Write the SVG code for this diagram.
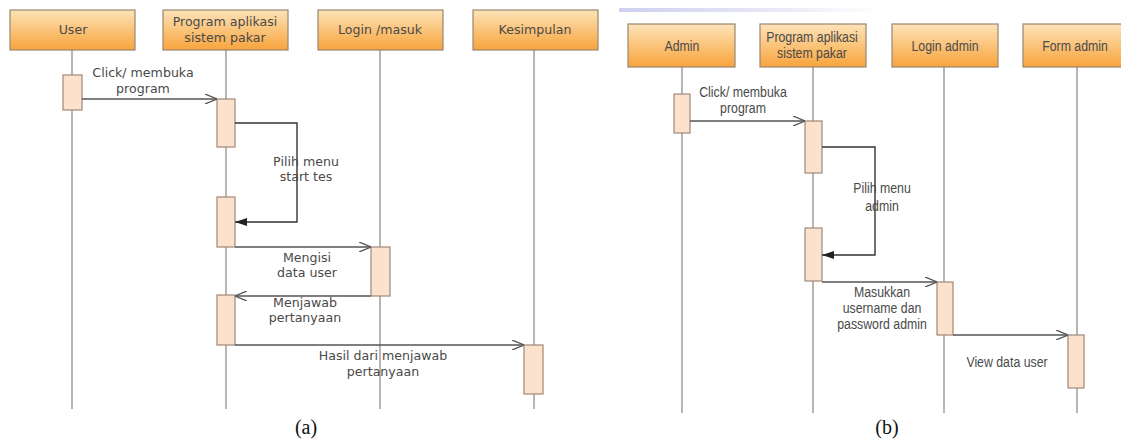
<svg xmlns="http://www.w3.org/2000/svg" width="1121" height="441" viewBox="0 0 1121 441">
  <defs>
    <linearGradient id="hdr" x1="0" y1="0" x2="0" y2="1">
      <stop offset="0" stop-color="#fde3b8"/>
      <stop offset="1" stop-color="#f8a43c"/>
    </linearGradient>
    <linearGradient id="topbar" x1="0" y1="0" x2="1" y2="0">
      <stop offset="0" stop-color="#cfcff0"/>
      <stop offset="0.6" stop-color="#e8e8f7"/>
      <stop offset="1" stop-color="#ffffff"/>
    </linearGradient>
    <marker id="open" viewBox="0 0 12 10" refX="12" refY="5" markerWidth="12" markerHeight="10" markerUnits="userSpaceOnUse" orient="auto">
      <path d="M0,0 L12,5 L0,10" fill="none" stroke="#555" stroke-width="1.3"/>
    </marker>
    <marker id="solid" viewBox="0 0 12 8" refX="12" refY="4" markerWidth="12" markerHeight="8" markerUnits="userSpaceOnUse" orient="auto">
      <path d="M0,0 L12,4 L0,8 Z" fill="#222"/>
    </marker>
  </defs>
  <style>
    .hdr { fill: url(#hdr); stroke: #9a8670; stroke-width: 1.2; }
    .life { stroke: #a8a39c; stroke-width: 1.6; fill: none; }
    .act { fill: #fce1cc; stroke: #a08878; stroke-width: 1.2; }
    .msg { stroke: #555; stroke-width: 1.4; fill: none; }
    .self { stroke: #333; stroke-width: 1.4; fill: none; }
    .ta { font-family: "DejaVu Sans", "Liberation Sans", sans-serif; font-size: 12.6px; fill: #4a4a4a; text-anchor: middle; }
    .tb { font-family: "Liberation Sans", Arial, sans-serif; font-size: 14.5px; fill: #4a4a4a; text-anchor: middle; }
    .cap { font-family: "Liberation Serif", serif; font-size: 20px; fill: #111; text-anchor: middle; }
  </style>

  <rect width="1121" height="441" fill="#ffffff"/>

  <!-- panel (a): user flow -->
  <g id="a-lifelines">
    <line class="life" x1="72" y1="50" x2="72" y2="409"/>
    <line class="life" x1="226" y1="50" x2="226" y2="409"/>
    <line class="life" x1="380" y1="50" x2="380" y2="409"/>
    <line class="life" x1="534" y1="50" x2="534" y2="409"/>
  </g>

  <g id="a-user">
    <rect class="hdr" x="10" y="10" width="125" height="40"/>
    <text class="ta" x="73" y="34">User</text>
    <rect class="act" x="63" y="75" width="19" height="35"/>
  </g>
  <g id="a-program">
    <rect class="hdr" x="163" y="10" width="125" height="40"/>
    <text class="ta" x="225" y="26">Program aplikasi</text>
    <text class="ta" x="225" y="42">sistem pakar</text>
    <rect class="act" x="217" y="99" width="18" height="48"/>
    <rect class="act" x="217" y="197" width="18" height="50"/>
    <rect class="act" x="217" y="295" width="18" height="50"/>
  </g>
  <g id="a-login">
    <rect class="hdr" x="318" y="10" width="125" height="40"/>
    <text class="ta" x="380" y="34">Login /masuk</text>
    <rect class="act" x="371" y="247" width="19" height="49"/>
  </g>
  <g id="a-kesimpulan">
    <rect class="hdr" x="473" y="10" width="125" height="40"/>
    <text class="ta" x="535" y="34">Kesimpulan</text>
    <rect class="act" x="524" y="345" width="19" height="49"/>
  </g>

  <g id="a-connectors">
    <line class="msg" x1="82" y1="99" x2="217" y2="99" marker-end="url(#open)"/>
    <polyline class="self" points="235,123 297,123 297,222 235,222" marker-end="url(#solid)"/>
    <line class="msg" x1="235" y1="247" x2="371" y2="247" marker-end="url(#open)"/>
    <line class="msg" x1="371" y1="296" x2="235" y2="296" marker-end="url(#open)"/>
    <line class="msg" x1="235" y1="345" x2="524" y2="345" marker-end="url(#open)"/>
  </g>
  <g id="a-labels">
    <text class="ta" x="143" y="77">Click/ membuka</text>
    <text class="ta" x="143" y="93">program</text>
    <text class="ta" x="306" y="166">Pilih menu</text>
    <text class="ta" x="306" y="181">start tes</text>
    <text class="ta" x="307" y="262">Mengisi</text>
    <text class="ta" x="307" y="277">data user</text>
    <text class="ta" x="305" y="307">Menjawab</text>
    <text class="ta" x="305" y="322">pertanyaan</text>
    <text class="ta" x="383" y="360">Hasil dari menjawab</text>
    <text class="ta" x="383" y="376">pertanyaan</text>
  </g>
  <text class="cap" x="306" y="434">(a)</text>

  <!-- panel (b): admin flow; labels use a condensed sans via horizontal scaling -->
  <rect x="619" y="8" width="260" height="4" fill="url(#topbar)"/>

  <g id="b-lifelines">
    <line class="life" x1="682" y1="67" x2="682" y2="413"/>
    <line class="life" x1="813" y1="67" x2="813" y2="413"/>
    <line class="life" x1="944" y1="67" x2="944" y2="413"/>
    <line class="life" x1="1077" y1="67" x2="1077" y2="413"/>
  </g>

  <g id="b-admin">
    <rect class="hdr" x="628" y="24" width="107" height="43"/>
    <text class="tb" transform="translate(682,51) scale(0.85,1)">Admin</text>
    <rect class="act" x="674" y="94" width="16" height="39"/>
  </g>
  <g id="b-program">
    <rect class="hdr" x="760" y="24" width="106" height="43"/>
    <text class="tb" transform="translate(812,42) scale(0.85,1)">Program aplikasi</text>
    <text class="tb" transform="translate(812,58) scale(0.85,1)">sistem pakar</text>
    <rect class="act" x="805" y="121" width="17" height="52"/>
    <rect class="act" x="805" y="228" width="17" height="53"/>
  </g>
  <g id="b-login">
    <rect class="hdr" x="892" y="24" width="106" height="43"/>
    <text class="tb" transform="translate(945,51) scale(0.85,1)">Login admin</text>
    <rect class="act" x="937" y="282" width="16" height="53"/>
  </g>
  <g id="b-form">
    <rect class="hdr" x="1023" y="24" width="106" height="43"/>
    <text class="tb" transform="translate(1075,51) scale(0.85,1)">Form admin</text>
    <rect class="act" x="1068" y="335" width="16" height="53"/>
  </g>

  <g id="b-connectors">
    <line class="msg" x1="690" y1="121" x2="805" y2="121" marker-end="url(#open)"/>
    <polyline class="self" points="822,147 875,147 875,255 822,255" marker-end="url(#solid)"/>
    <line class="msg" x1="822" y1="282" x2="937" y2="282" marker-end="url(#open)"/>
    <line class="msg" x1="953" y1="335" x2="1068" y2="335" marker-end="url(#open)"/>
  </g>
  <g id="b-labels">
    <text class="tb" transform="translate(743,97) scale(0.85,1)">Click/ membuka</text>
    <text class="tb" transform="translate(743,113) scale(0.85,1)">program</text>
    <text class="tb" transform="translate(882,193) scale(0.85,1)">Pilih menu</text>
    <text class="tb" transform="translate(882,211) scale(0.85,1)">admin</text>
    <text class="tb" transform="translate(882,297) scale(0.85,1)">Masukkan</text>
    <text class="tb" transform="translate(882,313) scale(0.85,1)">username dan</text>
    <text class="tb" transform="translate(882,329) scale(0.85,1)">password admin</text>
    <text class="tb" transform="translate(1007,367) scale(0.85,1)">View data user</text>
  </g>
  <text class="cap" x="887" y="434">(b)</text>
</svg>
